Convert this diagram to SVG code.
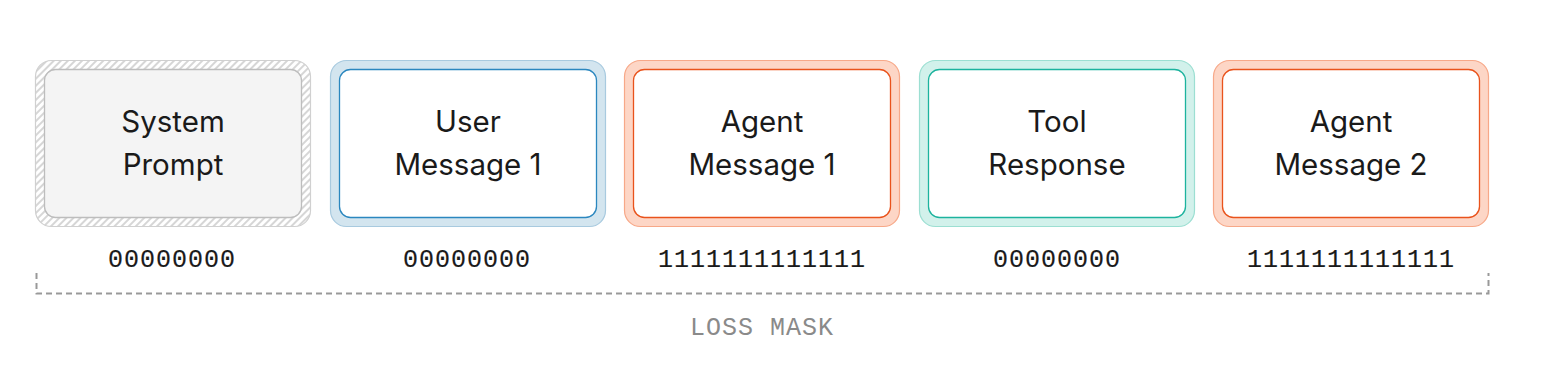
<svg xmlns="http://www.w3.org/2000/svg" width="1548" height="384" viewBox="0 0 1548 384">
<defs>
<pattern id="hatch" patternUnits="userSpaceOnUse" width="5" height="5" patternTransform="rotate(45)">
<rect width="5" height="5" fill="#ffffff"/>
<rect width="2" height="5" fill="#d6d6d6"/>
</pattern>
</defs>
<style>
.lbl{font-family:"Inter","Liberation Sans",sans-serif;font-size:29.5px;fill:#1a1a1a;text-anchor:middle}
.num{font-family:"Liberation Mono","DejaVu Sans Mono",monospace;font-size:25px;fill:#1a1a1a;text-anchor:middle;letter-spacing:1px;stroke:#1a1a1a;stroke-width:0.15}
.mask{font-family:"Liberation Mono","DejaVu Sans Mono",monospace;font-size:25px;fill:#8a8a8a;text-anchor:middle;letter-spacing:1px}
.outer{stroke-width:1.2}
.inner{fill:#ffffff;stroke-width:1.3}
</style>
<g id="system-prompt">
<rect class="outer" x="35.5" y="60.5" width="275" height="166" rx="16" fill="url(#hatch)" stroke="#d0d0d0"/>
<rect class="inner" x="44.5" y="69.5" width="257" height="148" rx="11" style="fill:#f4f4f4" stroke="#bdbdbd"/>
<text class="lbl" x="173" y="132">System</text>
<text class="lbl" x="173" y="175">Prompt</text>
<text class="num" x="172" y="267">00000000</text>
</g>
<g id="user-message-1">
<rect class="outer" x="330.5" y="60.5" width="275" height="166" rx="16" fill="#d3e5ef" stroke="#a8cadf"/>
<rect class="inner" x="339.5" y="69.5" width="257" height="148" rx="11" stroke="#2b87bf"/>
<text class="lbl" x="468" y="132">User</text>
<text class="lbl" x="468" y="175">Message 1</text>
<text class="num" x="467" y="267">00000000</text>
</g>
<g id="agent-message-1">
<rect class="outer" x="624.5" y="60.5" width="275" height="166" rx="16" fill="#fdd6c6" stroke="#f7a888"/>
<rect class="inner" x="633.5" y="69.5" width="257" height="148" rx="11" stroke="#e9531c"/>
<text class="lbl" x="762" y="132">Agent</text>
<text class="lbl" x="762" y="175">Message 1</text>
<text class="num" x="762" y="267">1111111111111</text>
</g>
<g id="tool-response">
<rect class="outer" x="919.5" y="60.5" width="275" height="166" rx="16" fill="#d2f1eb" stroke="#9cdfd2"/>
<rect class="inner" x="928.5" y="69.5" width="257" height="148" rx="11" stroke="#1db39e"/>
<text class="lbl" x="1057" y="132">Tool</text>
<text class="lbl" x="1057" y="175">Response</text>
<text class="num" x="1057" y="267">00000000</text>
</g>
<g id="agent-message-2">
<rect class="outer" x="1213.5" y="60.5" width="275" height="166" rx="16" fill="#fdd6c6" stroke="#f7a888"/>
<rect class="inner" x="1222.5" y="69.5" width="257" height="148" rx="11" stroke="#e9531c"/>
<text class="lbl" x="1351" y="132">Agent</text>
<text class="lbl" x="1351" y="175">Message 2</text>
<text class="num" x="1351" y="267">1111111111111</text>
</g>
<g id="connectors">
<path d="M36.5 273 V293.5 H1488.5 V273" fill="none" stroke="#999999" stroke-width="2" stroke-dasharray="6 4"/>
</g>
<g id="loss-mask">
<text class="mask" x="762" y="335">LOSS MASK</text>
</g>
</svg>
